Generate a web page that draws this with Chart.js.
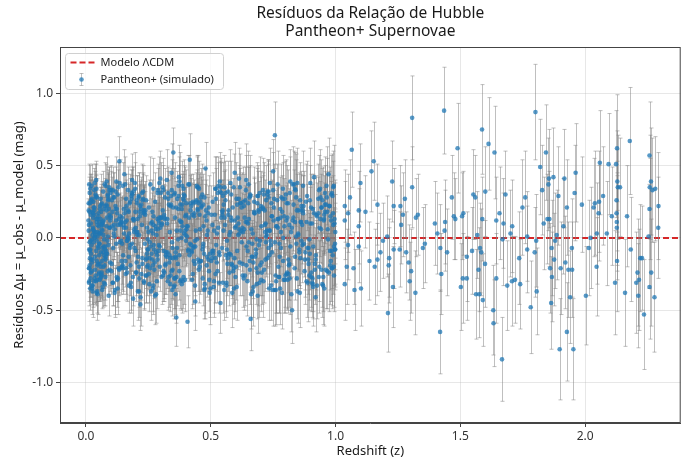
<!DOCTYPE html>
<html>
<head>
<meta charset="utf-8">
<script src="https://cdn.jsdelivr.net/npm/chart.js@4.4.1/dist/chart.umd.min.js"></script>
<style>
  body { margin: 0; background: #fff; }
  #wrap { width: 683px; height: 461px; }
</style>
</head>
<body>
<div id="wrap"><canvas id="hubbleChart" width="683" height="461"></canvas></div>
<script>
// Text
const titleLines = ['Resíduos da Relação de Hubble', 'Pantheon+ Supernovae'];
const xTitle = 'Redshift (z)';
const yTitle = 'Resíduos Δμ = μ_obs - μ_model (mag)';
const legendLabels = ['Modelo ΛCDM', 'Pantheon+ (simulado)'];

// Axis ticks
const xTicks = [0, 0.5, 1.0, 1.5, 2.0];
const yTicks = [-1.0, -0.5, 0, 0.5, 1.0];

// Band A: z < 0.1 (redshift, residual, error)
const zBandA = [
  0.010,0.012,0.011,0.015,0.013,0.017,0.014,0.019,0.016,0.021,
  0.018,0.012,0.023,0.020,0.026,0.015,0.024,0.029,0.022,0.027,
  0.031,0.025,0.034,0.019,0.028,0.036,0.032,0.013,0.038,0.030,
  0.041,0.035,0.024,0.043,0.039,0.046,0.033,0.048,0.027,0.044,
  0.051,0.037,0.049,0.054,0.042,0.016,0.057,0.045,0.052,0.060,
  0.040,0.055,0.063,0.047,0.058,0.021,0.066,0.050,0.061,0.035,
  0.069,0.053,0.064,0.072,0.056,0.030,0.075,0.059,0.067,0.044,
  0.078,0.062,0.070,0.081,0.038,0.065,0.084,0.073,0.026,0.087,
  0.068,0.076,0.090,0.048,0.079,0.093,0.071,0.082,0.057,0.096,
  0.085,0.011,0.074,0.099,0.088,0.063,0.042,0.091,0.077,0.054,
  0.094,0.018,0.083,0.097,0.066,0.033,0.089,0.080,0.046,0.100,
  0.014,0.058,0.092,0.025,0.071,0.086,0.039,0.064,0.098,0.050,
  0.028,0.075,0.017,0.095,0.061,0.043,0.083,0.022,0.069,0.056,
  0.034,0.090,0.047,0.012,0.079,0.065,0.037,0.087,0.053,0.020,
  0.073,0.029,0.060,0.094,0.041,0.016,0.082,0.067,0.032,0.049,
  0.088,0.023,0.055,0.077,0.011,0.045,0.099,0.036,0.070,0.059,
  0.015,0.084,0.040,0.062,0.027,0.093,0.052,0.019,0.076,0.031,
  0.064,0.046,0.013,0.081,0.057,0.035,0.097,0.024,0.072,0.043
];
const resBandA = [
  0.12,-0.21,0.05,0.31,-0.08,-0.35,0.18,-0.02,0.24,-0.15,
  -0.28,0.09,0.36,-0.11,0.02,-0.19,0.27,0.14,-0.05,-0.37,
  0.21,-0.01,0.33,-0.24,0.07,-0.13,0.16,-0.30,0.04,0.25,
  -0.09,0.38,-0.17,0.11,-0.26,0.01,0.19,-0.06,-0.33,0.28,
  0.08,-0.22,0.15,-0.04,0.34,-0.14,0.22,-0.29,0.03,-0.10,
  0.29,-0.18,0.06,-0.39,0.13,0.26,-0.07,0.17,-0.25,0.00,
  0.32,-0.12,0.10,-0.31,0.20,-0.03,0.37,-0.20,0.09,-0.16,
  -0.27,0.23,0.02,-0.09,0.30,-0.36,0.14,-0.01,0.18,-0.23,
  0.11,-0.32,0.27,0.04,-0.15,0.35,-0.06,0.19,-0.28,0.07,
  -0.11,0.24,-0.19,0.31,0.01,-0.24,0.13,-0.40,0.22,-0.04,
  0.16,-0.08,0.39,-0.17,0.05,-0.30,0.26,-0.13,0.09,0.33,
  -0.21,0.03,0.20,-0.35,0.12,-0.02,0.28,-0.26,0.15,-0.07,
  0.06,-0.14,0.34,-0.22,0.18,-0.38,0.08,0.25,-0.10,-0.29,
  0.21,-0.05,0.13,-0.31,0.36,-0.16,0.02,0.29,-0.24,0.10,
  -0.12,0.17,-0.27,0.07,0.40,-0.09,0.23,-0.34,0.04,-0.18,
  0.30,-0.23,0.11,-0.06,0.19,-0.37,0.14,0.01,-0.20,0.27,
  -0.03,0.22,-0.30,0.09,-0.15,0.33,-0.25,0.16,-0.08,0.05,
  0.24,-0.19,0.37,-0.11,0.03,-0.28,0.12,-0.33,0.20,-0.02
];
const errBandA = [
  0.15,0.14,0.16,0.13,0.17,0.15,0.14,0.18,0.16,0.15,
  0.13,0.17,0.15,0.16,0.14,0.19,0.15,0.13,0.16,0.18,
  0.14,0.16,0.15,0.17,0.13,0.15,0.18,0.14,0.16,0.15,
  0.17,0.13,0.16,0.15,0.19,0.14,0.16,0.17,0.15,0.13,
  0.16,0.18,0.14,0.15,0.17,0.16,0.13,0.15,0.19,0.14,
  0.15,0.16,0.17,0.14,0.15,0.18,0.16,0.13,0.15,0.17,
  0.14,0.15,0.19,0.16,0.13,0.17,0.15,0.16,0.14,0.18,
  0.16,0.14,0.15,0.17,0.16,0.13,0.18,0.15,0.14,0.16,
  0.17,0.15,0.13,0.16,0.19,0.14,0.15,0.17,0.16,0.15,
  0.14,0.18,0.16,0.15,0.13,0.17,0.15,0.14,0.19,0.16,
  0.15,0.13,0.17,0.16,0.14,0.15,0.18,0.16,0.15,0.17,
  0.16,0.15,0.14,0.18,0.16,0.13,0.15,0.17,0.14,0.16,
  0.18,0.14,0.16,0.15,0.17,0.19,0.13,0.15,0.16,0.14,
  0.15,0.17,0.13,0.16,0.15,0.14,0.18,0.16,0.17,0.15,
  0.14,0.16,0.15,0.19,0.13,0.17,0.15,0.14,0.16,0.18,
  0.17,0.15,0.16,0.14,0.18,0.15,0.13,0.16,0.15,0.17,
  0.16,0.13,0.17,0.15,0.14,0.16,0.19,0.15,0.17,0.14,
  0.15,0.17,0.14,0.16,0.15,0.18,0.16,0.13,0.15,0.16
];

// Band B: 0.1 < z < 0.5
const zBandB = [
  0.103,0.118,0.134,0.109,0.146,0.125,0.154,0.112,0.139,0.161,
  0.128,0.172,0.106,0.149,0.183,0.121,0.165,0.137,0.194,0.115,
  0.177,0.143,0.205,0.130,0.188,0.158,0.218,0.124,0.199,0.169,
  0.226,0.152,0.211,0.180,0.237,0.141,0.196,0.248,0.163,0.222,
  0.186,0.259,0.133,0.231,0.203,0.268,0.175,0.244,0.157,0.279,
  0.214,0.191,0.287,0.229,0.166,0.296,0.252,0.208,0.305,0.241,
  0.273,0.197,0.314,0.262,0.234,0.323,0.185,0.284,0.332,0.256,
  0.301,0.219,0.341,0.276,0.350,0.245,0.309,0.362,0.266,0.327,
  0.371,0.292,0.338,0.254,0.380,0.318,0.389,0.283,0.346,0.398,
  0.311,0.407,0.356,0.271,0.416,0.337,0.384,0.425,0.298,0.365,
  0.434,0.352,0.393,0.443,0.320,0.375,0.452,0.404,0.344,0.461,
  0.386,0.470,0.413,0.359,0.479,0.428,0.395,0.488,0.368,0.446,
  0.497,0.419,0.377,0.457,0.402,0.438,0.483,0.411,0.466,0.391,
  0.113,0.203,0.288,0.374,0.455,0.148,0.233,0.316,0.401,0.492,
  0.127,0.261,0.347,0.429,0.178,0.294,0.383,0.468,0.216,0.335,
  0.108,0.239,0.308,0.421,0.160,0.277,0.366,0.449,0.192,0.343,
  0.131,0.250,0.329,0.437,0.171,0.290,0.378,0.474,0.224,0.357,
  0.119,0.209,0.303,0.414,0.485,0.144,0.265,0.353,0.432,0.189,
  0.136,0.227,0.319,0.408,0.476,0.155,0.281,0.372,0.440,0.200,
  0.122,0.247,0.326,0.397,0.463,0.168,0.270,0.361,0.451,0.213,
  0.105,0.147,0.183,0.236,0.271,0.328,0.362,0.415,0.453,0.114,
  0.159,0.198,0.249,0.287,0.334,0.379,0.431,0.476,0.121,0.166,
  0.211,0.257,0.293,0.348,0.386,0.438,0.481,0.128,0.173,0.217,
  0.263,0.302,0.355,0.393,0.445,0.489,0.102,0.151,0.190,0.240,
  0.279,0.331,0.370,0.423,0.461,0.496,0.132,0.177,0.222,0.268,
  0.307,0.358,0.399,0.448,0.107,0.144,0.195,0.229,0.274,0.313,
  0.345,0.392,0.436,0.471,0.116,0.162,0.206,0.243,0.289,0.339,
  0.376,0.424,0.458,0.494,0.125,0.169,0.212,0.258,0.296,0.349,
  0.384,0.433,0.467,0.110,0.153,0.202,0.238,0.285,0.324,0.369,
  0.418,0.459,0.138,0.181,0.225,0.272,0.315,0.363,0.403,0.447,
  0.486,0.104,0.149,0.193,0.234,0.281,0.325,0.371,0.409,0.454,
  0.119,0.164,0.207,0.252,0.298,0.341,0.388,0.426,0.473,0.135,
  0.176,0.221,0.266,0.310,0.354,0.397,0.441,0.484,0.141,0.185,
  0.228,0.270,0.317,0.359,0.405,0.450,0.493,0.113,0.158,0.204,
  0.245,0.292,0.336,0.381,0.422,0.469,0.127,0.171,0.214,0.261,
  0.304,0.347,0.391,0.437,0.478,0.108,0.152,0.199,0.242,0.286,
  0.330,0.374,0.417,0.462,0.499,0.137,0.182,0.226,0.269,0.312,
  0.357,0.401,0.444,0.490,0.115,0.161,0.205,0.248,0.294,0.338,
  0.383,0.429,0.470,0.123,0.168,0.213,0.256,0.300,0.343,0.387,
  0.432,0.475,0.145,0.189,0.232,0.277,0.321,0.364,0.410,0.456
];
const resBandB = [
  -0.18,0.22,0.53,-0.07,0.14,-0.29,0.44,0.03,-0.21,0.27,
  0.09,-0.33,0.18,-0.12,0.31,-0.04,-0.24,0.15,0.06,-0.38,
  0.25,-0.16,0.02,0.35,-0.27,0.11,-0.46,0.20,-0.09,0.33,
  -0.14,0.07,0.28,-0.31,0.16,-0.02,0.38,-0.19,0.12,-0.25,
  0.30,-0.06,-0.22,0.19,0.04,-0.35,0.24,-0.11,0.37,0.08,
  -0.28,0.13,-0.15,0.32,0.01,-0.20,0.21,-0.37,0.10,0.26,
  -0.08,0.34,-0.24,0.05,0.17,-0.13,0.40,-0.30,0.23,-0.03,
  0.14,-0.41,0.29,-0.17,0.59,0.07,-0.26,-0.55,0.18,-0.10,
  0.36,-0.05,0.22,-0.32,0.11,-0.19,0.27,0.02,-0.36,0.15,
  -0.23,-0.58,0.31,0.09,0.54,-0.14,0.20,-0.29,0.41,-0.07,
  0.17,-0.34,0.03,0.26,-0.12,0.39,-0.22,0.08,0.33,-0.16,
  0.23,-0.04,0.14,-0.39,0.48,-0.25,0.29,0.05,-0.18,0.35,
  -0.11,0.19,-0.30,0.06,0.24,-0.44,0.12,-0.08,0.30,-0.27,
  0.28,-0.17,0.06,-0.23,0.16,0.36,-0.31,0.13,-0.02,0.21,
  -0.35,0.10,-0.07,0.25,-0.19,0.38,0.00,-0.28,0.15,-0.12,
  0.33,-0.26,0.19,-0.05,0.07,-0.40,0.27,-0.15,0.12,0.45,
  -0.21,0.04,0.31,-0.33,0.18,-0.09,0.23,-0.36,0.09,0.14,
  0.20,-0.13,-0.27,0.37,0.02,-0.20,0.11,0.30,-0.06,-0.42,
  -0.03,0.26,-0.18,0.08,-0.32,0.17,-0.10,0.42,0.05,-0.24,
  0.39,-0.08,0.13,-0.29,0.22,-0.01,0.34,-0.14,0.24,-0.37,
  0.08,-0.19,0.27,-0.04,0.15,-0.30,0.21,-0.12,0.34,0.01,
  -0.25,0.18,-0.08,0.31,-0.17,0.05,0.24,-0.35,0.12,-0.02,
  0.29,-0.21,0.10,-0.14,0.36,-0.06,0.19,-0.28,0.03,0.22,
  -0.11,0.14,-0.33,0.26,-0.01,0.17,-0.23,0.09,0.32,-0.15,
  0.06,-0.27,0.20,-0.09,0.28,-0.38,0.13,-0.05,0.23,-0.19,
  0.35,-0.13,0.02,0.19,-0.31,0.11,-0.07,0.27,-0.22,0.16,
  -0.03,0.30,-0.18,0.08,-0.36,0.22,0.04,-0.14,0.33,-0.26,
  0.12,-0.10,0.25,-0.29,0.17,0.00,-0.20,0.37,-0.06,0.21,
  -0.32,0.15,-0.08,0.28,0.03,-0.24,0.19,-0.12,0.40,-0.01,
  0.24,-0.16,0.09,-0.34,0.31,-0.05,0.14,-0.27,0.06,0.20,
  -0.13,0.26,-0.21,0.04,0.18,-0.39,0.10,0.29,-0.09,-0.17,
  0.32,-0.02,0.13,-0.25,0.07,0.23,-0.30,0.16,-0.11,0.38,
  -0.07,0.20,-0.15,0.33,-0.28,0.05,0.25,-0.19,0.11,-0.04,
  0.17,-0.33,0.28,-0.10,0.01,0.35,-0.23,0.09,-0.16,0.26,
  -0.20,0.12,0.04,-0.29,0.22,-0.06,0.30,-0.13,0.18,-0.37,
  0.09,-0.22,0.34,-0.02,0.15,-0.31,0.20,0.07,-0.26,0.13,
  0.27,-0.12,-0.04,0.21,-0.35,0.10,0.29,-0.18,0.03,-0.09,
  -0.28,0.16,0.36,-0.15,0.06,-0.21,0.24,-0.01,0.14,-0.32,
  0.11,-0.07,0.23,-0.27,0.19,0.02,-0.14,0.31,-0.23,0.08,
  -0.16,0.28,-0.04,0.13,-0.30,0.25,-0.10,0.05,0.37,-0.20
];
const errBandB = [
  0.17,0.16,0.17,0.18,0.15,0.19,0.17,0.16,0.18,0.17,
  0.16,0.19,0.17,0.15,0.18,0.17,0.20,0.16,0.18,0.17,
  0.19,0.16,0.18,0.17,0.20,0.16,0.18,0.19,0.17,0.16,
  0.18,0.20,0.17,0.19,0.16,0.18,0.21,0.17,0.19,0.18,
  0.17,0.19,0.18,0.16,0.20,0.18,0.17,0.21,0.19,0.18,
  0.20,0.17,0.19,0.18,0.21,0.17,0.19,0.20,0.18,0.17,
  0.19,0.18,0.20,0.17,0.19,0.22,0.18,0.19,0.17,0.20,
  0.18,0.20,0.19,0.21,0.17,0.19,0.18,0.20,0.22,0.19,
  0.20,0.18,0.21,0.19,0.17,0.20,0.19,0.22,0.18,0.20,
  0.19,0.18,0.21,0.20,0.18,0.19,0.22,0.20,0.19,0.21,
  0.20,0.22,0.19,0.21,0.18,0.20,0.23,0.19,0.21,0.20,
  0.21,0.19,0.22,0.20,0.18,0.21,0.20,0.23,0.19,0.22,
  0.20,0.22,0.19,0.21,0.23,0.20,0.18,0.22,0.21,0.19,
  0.17,0.19,0.18,0.20,0.21,0.16,0.19,0.20,0.18,0.22,
  0.18,0.17,0.20,0.19,0.21,0.18,0.20,0.19,0.22,0.18,
  0.16,0.19,0.21,0.18,0.17,0.20,0.19,0.22,0.18,0.20,
  0.17,0.20,0.18,0.21,0.19,0.17,0.21,0.20,0.19,0.22,
  0.18,0.17,0.19,0.20,0.22,0.16,0.20,0.18,0.21,0.19,
  0.16,0.18,0.21,0.19,0.20,0.17,0.19,0.22,0.18,0.20,
  0.17,0.19,0.20,0.22,0.18,0.16,0.21,0.19,0.20,0.18,
  0.17,0.18,0.16,0.19,0.17,0.20,0.18,0.17,0.19,0.16,
  0.18,0.16,0.19,0.17,0.20,0.18,0.16,0.21,0.17,0.19,
  0.16,0.19,0.18,0.20,0.17,0.19,0.21,0.16,0.18,0.17,
  0.19,0.17,0.20,0.18,0.21,0.19,0.16,0.18,0.17,0.20,
  0.18,0.21,0.17,0.19,0.20,0.22,0.17,0.18,0.19,0.18,
  0.20,0.18,0.21,0.19,0.16,0.17,0.19,0.18,0.20,0.21,
  0.19,0.20,0.22,0.21,0.17,0.18,0.16,0.19,0.18,0.20,
  0.21,0.19,0.20,0.22,0.16,0.18,0.17,0.19,0.21,0.20,
  0.20,0.22,0.19,0.17,0.18,0.16,0.20,0.19,0.21,0.18,
  0.19,0.21,0.17,0.18,0.20,0.19,0.22,0.20,0.18,0.21,
  0.22,0.16,0.18,0.17,0.19,0.20,0.18,0.21,0.19,0.20,
  0.17,0.19,0.18,0.20,0.17,0.21,0.19,0.22,0.20,0.16,
  0.18,0.20,0.19,0.17,0.21,0.18,0.20,0.22,0.17,0.19,
  0.19,0.18,0.20,0.21,0.19,0.22,0.20,0.16,0.18,0.17,
  0.20,0.19,0.18,0.21,0.22,0.20,0.17,0.19,0.18,0.20,
  0.18,0.21,0.20,0.19,0.22,0.16,0.18,0.17,0.19,0.21,
  0.19,0.20,0.22,0.21,0.20,0.17,0.18,0.20,0.19,0.18,
  0.21,0.19,0.20,0.22,0.16,0.18,0.19,0.17,0.20,0.19,
  0.20,0.22,0.21,0.17,0.19,0.18,0.20,0.21,0.19,0.22,
  0.21,0.20,0.18,0.17,0.19,0.20,0.18,0.21,0.20,0.19
];

// Band C: 0.5 < z < 1.0
const zBandC = [
  0.503,0.527,0.514,0.549,0.539,0.561,0.521,0.575,0.533,0.588,
  0.545,0.596,0.508,0.567,0.611,0.554,0.579,0.624,0.518,0.603,
  0.637,0.583,0.559,0.648,0.593,0.660,0.530,0.617,0.671,0.571,
  0.629,0.684,0.606,0.542,0.693,0.642,0.705,0.586,0.655,0.717,
  0.664,0.728,0.599,0.676,0.739,0.620,0.688,0.750,0.634,0.757,
  0.698,0.768,0.651,0.711,0.779,0.565,0.722,0.790,0.668,0.734,
  0.801,0.681,0.745,0.812,0.613,0.764,0.826,0.701,0.775,0.837,
  0.714,0.786,0.848,0.645,0.797,0.859,0.725,0.808,0.870,0.690,
  0.819,0.881,0.742,0.831,0.892,0.658,0.842,0.903,0.753,0.855,
  0.914,0.771,0.866,0.920,0.709,0.877,0.931,0.783,0.888,0.942,
  0.806,0.899,0.953,0.732,0.910,0.962,0.794,0.921,0.972,0.845,
  0.936,0.979,0.817,0.948,0.985,0.761,0.958,0.991,0.863,0.967,
  0.996,0.884,0.975,0.999,0.834,0.981,0.994,0.906,0.988,0.997,
  0.512,0.601,0.687,0.776,0.862,0.951,0.556,0.643,0.731,0.823,
  0.909,0.524,0.615,0.702,0.788,0.873,0.964,0.570,0.657,0.745,
  0.838,0.926,0.536,0.627,0.719,0.804,0.895,0.983,0.581,0.674,
  0.762,0.851,0.940,0.506,0.592,0.683,0.771,0.857,0.945,0.551,
  0.639,0.727,0.815,0.903,0.990,0.563,0.652,0.737,0.829,0.917,
  0.977,0.519,0.608,0.696,0.781,0.869,0.955,0.578,0.666,0.754,
  0.843,0.934,0.993,0.547,0.632,0.720,0.810,0.897,0.969,0.986,
  0.505,0.552,0.598,0.647,0.693,0.741,0.789,0.836,0.884,0.931,
  0.978,0.516,0.563,0.610,0.659,0.704,0.752,0.799,0.847,0.895,
  0.943,0.989,0.528,0.575,0.622,0.668,0.716,0.763,0.811,0.858,
  0.906,0.954,0.998,0.540,0.586,0.633,0.681,0.728,0.774,0.822,
  0.870,0.917,0.965,0.509,0.557,0.604,0.650,0.697,0.745,0.793,
  0.840,0.888,0.935,0.982,0.521,0.568,0.614,0.662,0.710,0.757,
  0.804,0.852,0.899,0.947,0.993,0.534,0.581,0.627,0.674,0.722,
  0.769,0.816,0.863,0.911,0.958,0.502,0.546,0.593,0.640,0.687,
  0.735,0.781,0.828,0.876,0.923,0.970,0.513,0.559,0.606,0.653,
  0.700,0.748,0.795,0.842,0.890,0.938,0.985,0.525,0.572,0.619,
  0.666,0.713,0.760,0.807,0.855,0.902,0.950,0.996,0.537,0.584,
  0.631,0.678,0.725,0.772,0.819,0.867,0.914,0.961,0.507,0.549,
  0.596,0.643,0.690,0.737,0.785,0.832,0.879,0.926,0.973,0.518,
  0.565,0.612,0.656,0.703,0.750,0.797,0.845,0.892,0.939,0.987,
  0.531,0.577,0.624,0.671,0.718,0.766,0.813,0.860,0.908,0.955,
  0.994,0.543,0.590,0.636,0.684,0.731,0.778,0.825,0.872,0.920,
  0.967,0.510,0.555,0.601,0.649,0.695,0.743,0.791,0.838,0.886,
  0.933,0.980,0.522,0.569,0.616,0.663,0.709,0.756,0.803,0.850,
  0.897,0.944,0.991,0.535,0.582,0.628,0.675,0.721,0.768,0.815,
  0.862,0.909,0.957,0.999,0.548,0.595,0.641,0.688,0.734,0.780
];
const resBandC = [
  0.16,-0.23,0.05,0.29,-0.45,-0.12,0.34,0.02,-0.31,0.21,
  -0.07,0.45,0.25,-0.18,0.10,-0.36,0.38,-0.03,-0.14,0.27,
  -0.26,0.12,0.31,-0.09,-0.21,-0.56,0.07,0.35,-0.17,0.19,
  0.04,-0.32,0.23,0.14,-0.05,0.40,-0.24,-0.38,0.28,0.09,
  -0.13,0.32,-0.27,0.17,-0.02,0.24,-0.40,0.46,0.06,0.71,
  -0.19,0.13,0.37,-0.30,0.20,-0.08,0.26,-0.16,0.03,-0.35,
  0.30,-0.11,0.15,-0.25,0.41,0.08,-0.50,0.22,-0.04,0.34,
  -0.22,0.18,-0.37,0.11,0.27,-0.14,0.05,-0.29,0.36,0.19,
  -0.06,0.25,-0.33,0.14,-0.18,0.30,0.01,-0.27,0.21,-0.10,
  0.42,-0.20,0.09,-0.41,0.33,-0.15,0.17,0.28,-0.31,0.06,
  -0.24,0.38,0.12,-0.07,-0.34,0.23,0.15,-0.12,0.44,-0.28,
  0.07,-0.19,0.31,0.26,-0.09,-0.36,0.18,0.35,-0.02,-0.23,
  0.13,-0.30,0.22,0.04,0.37,-0.16,-0.26,0.10,0.29,-0.08,
  -0.34,0.08,0.24,-0.13,0.19,-0.27,0.14,-0.06,0.32,-0.39,
  0.20,-0.17,0.03,-0.29,0.27,-0.04,0.36,0.16,-0.22,-0.10,
  0.11,-0.33,0.39,0.07,-0.15,0.24,-0.26,0.30,-0.12,0.18,
  -0.30,0.02,0.28,-0.09,0.35,-0.21,0.13,-0.38,0.21,0.05,
  0.26,-0.14,0.09,-0.24,0.17,-0.31,-0.03,0.38,0.12,-0.18,
  0.22,-0.25,0.14,0.31,-0.07,0.19,-0.35,0.04,-0.13,0.27,
  -0.04,0.33,-0.20,0.16,-0.28,0.10,0.24,-0.11,0.06,0.31,
  -0.14,0.23,0.07,-0.30,0.18,-0.05,0.34,-0.21,0.11,0.27,
  -0.09,0.16,-0.33,0.02,0.29,-0.17,0.12,-0.26,0.38,-0.01,
  0.21,-0.12,0.31,-0.24,0.05,-0.37,0.19,0.08,-0.15,0.26,
  -0.31,0.13,-0.04,0.35,-0.19,0.22,-0.08,0.30,-0.27,0.04,
  0.17,-0.22,0.28,-0.11,0.09,-0.34,0.24,-0.02,0.15,-0.29,
  0.33,-0.07,-0.20,0.12,0.27,-0.14,0.06,-0.39,0.20,-0.03,
  -0.25,0.19,0.10,-0.32,0.36,-0.10,0.14,-0.18,0.25,0.01,
  0.07,-0.28,0.22,-0.06,0.31,-0.16,0.18,-0.35,0.11,0.29,
  -0.12,0.04,0.37,-0.23,0.16,-0.01,-0.30,0.26,-0.09,0.13,
  0.20,-0.36,0.08,0.28,-0.15,0.34,-0.21,0.03,-0.11,0.24,
  -0.04,0.30,-0.26,0.14,-0.08,0.21,-0.33,0.10,0.32,-0.18,
  0.25,-0.13,0.02,-0.27,0.39,-0.05,0.17,-0.22,0.09,-0.31,
  0.12,-0.19,0.29,0.05,-0.38,0.23,-0.10,0.15,-0.24,0.34,
  -0.02,0.27,-0.16,0.08,0.33,-0.29,0.19,-0.07,0.13,-0.21,
  0.36,-0.11,0.21,-0.34,0.04,0.26,-0.19,0.11,-0.28,0.16,
  -0.06,0.31,-0.23,0.14,-0.01,0.28,-0.35,0.07,0.22,-0.15,
  0.18,-0.09,0.35,-0.20,0.10,-0.31,0.24,0.00,-0.13,0.29,
  -0.27,0.15,-0.05,0.32,-0.17,0.06,0.21,-0.36,0.12,0.03,
  0.26,-0.22,0.09,-0.12,0.30,-0.26,0.17,-0.03,0.37,-0.18,
  0.11,-0.32,0.23,-0.08,0.19,-0.14,0.33,-0.24,0.05,0.14
];
const errBandC = [
  0.20,0.22,0.19,0.23,0.21,0.20,0.22,0.24,0.21,0.20,
  0.23,0.21,0.20,0.22,0.24,0.21,0.23,0.20,0.22,0.25,
  0.21,0.23,0.22,0.20,0.24,0.22,0.19,0.23,0.25,0.21,
  0.22,0.24,0.21,0.23,0.20,0.25,0.22,0.24,0.21,0.23,
  0.25,0.22,0.24,0.21,0.23,0.20,0.26,0.22,0.24,0.23,
  0.21,0.24,0.23,0.25,0.22,0.20,0.24,0.23,0.26,0.22,
  0.24,0.22,0.25,0.23,0.21,0.26,0.23,0.24,0.22,0.25,
  0.23,0.25,0.22,0.24,0.26,0.21,0.25,0.23,0.24,0.27,
  0.22,0.26,0.24,0.23,0.25,0.27,0.22,0.24,0.26,0.23,
  0.25,0.23,0.27,0.24,0.22,0.26,0.25,0.23,0.27,0.24,
  0.26,0.24,0.23,0.25,0.27,0.22,0.26,0.24,0.25,0.28,
  0.24,0.27,0.25,0.23,0.26,0.24,0.28,0.25,0.23,0.26,
  0.27,0.25,0.24,0.26,0.23,0.28,0.25,0.27,0.24,0.26,
  0.21,0.22,0.24,0.23,0.25,0.24,0.20,0.23,0.22,0.26,
  0.24,0.20,0.23,0.22,0.25,0.23,0.27,0.21,0.24,0.22,
  0.25,0.23,0.20,0.24,0.22,0.26,0.24,0.27,0.21,0.23,
  0.22,0.24,0.26,0.19,0.23,0.25,0.22,0.24,0.27,0.21,
  0.23,0.21,0.25,0.24,0.26,0.20,0.22,0.24,0.23,0.25,
  0.27,0.20,0.22,0.25,0.23,0.24,0.26,0.21,0.23,0.24,
  0.25,0.24,0.28,0.21,0.22,0.24,0.23,0.25,0.26,0.27,
  0.21,0.23,0.22,0.24,0.21,0.25,0.23,0.22,0.26,0.24,
  0.27,0.20,0.22,0.24,0.21,0.23,0.25,0.22,0.24,0.26,
  0.23,0.27,0.21,0.23,0.22,0.24,0.21,0.25,0.23,0.26,
  0.24,0.25,0.28,0.20,0.23,0.22,0.24,0.23,0.25,0.22,
  0.26,0.24,0.27,0.22,0.20,0.23,0.25,0.22,0.24,0.23,
  0.25,0.26,0.24,0.27,0.21,0.23,0.22,0.24,0.25,0.23,
  0.24,0.26,0.25,0.23,0.28,0.21,0.23,0.22,0.24,0.26,
  0.23,0.25,0.24,0.27,0.25,0.20,0.22,0.21,0.24,0.23,
  0.25,0.24,0.26,0.23,0.27,0.25,0.22,0.21,0.23,0.24,
  0.22,0.25,0.23,0.26,0.24,0.27,0.26,0.20,0.22,0.24,
  0.23,0.22,0.26,0.24,0.25,0.23,0.27,0.28,0.21,0.22,
  0.24,0.21,0.23,0.25,0.22,0.26,0.24,0.27,0.20,0.21,
  0.22,0.24,0.21,0.23,0.25,0.24,0.26,0.23,0.27,0.22,
  0.21,0.23,0.22,0.24,0.26,0.23,0.25,0.24,0.26,0.28,
  0.20,0.22,0.24,0.21,0.23,0.25,0.24,0.26,0.23,0.27,
  0.27,0.21,0.23,0.22,0.24,0.23,0.25,0.26,0.24,0.25,
  0.26,0.20,0.22,0.23,0.21,0.24,0.22,0.25,0.23,0.24,
  0.25,0.27,0.22,0.21,0.23,0.24,0.22,0.25,0.24,0.26,
  0.24,0.26,0.28,0.21,0.23,0.22,0.25,0.24,0.23,0.25,
  0.26,0.24,0.27,0.28,0.21,0.22,0.24,0.23,0.25,0.22
];

// Band D: z > 1.0 (sparse, read point by point)
const zBandD = [
  1.037,1.037,1.045,1.037,1.050,1.050,1.058,1.065,1.072,1.076,
  1.093,1.093,1.093,1.100,1.102,1.120,1.136,1.144,1.153,1.157,
  1.168,1.168,1.180,1.190,1.207,1.213,1.215,1.210,1.227,1.233,
  1.233,1.230,1.257,1.260,1.263,1.270,1.278,1.283,1.293,1.303,
  1.297,1.307,1.307,1.320,1.322,1.330,1.350,1.358,1.398,1.408,
  1.420,1.424,1.419,1.435,1.437,1.439,1.447,1.466,1.474,1.480,
  1.489,1.507,1.512,1.526,1.502,1.510,1.526,1.547,1.552,1.560,
  1.568,1.563,1.576,1.573,1.579,1.584,1.587,1.588,1.590,1.599,
  1.600,1.613,1.632,1.633,1.637,1.644,1.644,1.657,1.667,1.673,
  1.681,1.669,1.688,1.701,1.708,1.707,1.719,1.736,1.740,1.749,
  1.760,1.768,1.768,1.782,1.801,1.798,1.804,1.806,1.820,1.828,
  1.834,1.843,1.849,1.853,1.855,1.857,1.860,1.864,1.866,1.867,
  1.873,1.876,1.880,1.886,1.893,1.898,1.902,1.913,1.917,1.921,
  1.927,1.927,1.933,1.940,1.947,1.948,1.953,1.958,1.962,1.987,
  2.003,2.015,2.022,2.034,2.039,2.046,2.047,2.054,2.056,2.059,
  2.072,2.087,2.094,2.107,2.120,2.124,2.126,2.126,2.127,2.128,
  2.129,2.127,2.128,2.131,2.140,2.160,2.168,2.179,2.183,2.205,
  2.210,2.213,2.216,2.221,2.228,2.236,2.254,2.258,2.258,2.259,
  2.264,2.270,2.265,2.258,2.278,2.281,2.294,2.293
];
const resBandD = [
  0.22,0.12,-0.20,-0.32,0.17,-0.05,0.28,0.61,-0.21,-0.36,
  0.19,0.08,-0.06,0.38,-0.35,0.18,-0.16,0.46,0.53,-0.20,
  0.23,-0.15,-0.10,-0.02,0.01,-0.19,-0.14,-0.52,0.39,0.22,
  -0.08,-0.34,-0.08,0.22,0.09,0.16,0.27,-0.10,-0.17,-0.23,
  -0.30,0.83,0.35,-0.38,0.14,0.16,-0.07,-0.04,0.10,0.03,
  -0.07,-0.25,-0.65,0.88,0.05,0.11,-0.10,0.28,0.15,0.13,
  0.62,0.15,0.17,-0.13,-0.34,-0.28,-0.28,-0.09,0.30,0.28,
  0.02,-0.39,-0.39,-0.22,-0.07,-0.10,0.75,0.13,-0.43,-0.18,
  0.32,0.65,-0.50,-0.59,0.59,0.12,-0.28,0.17,-0.84,0.10,
  0.30,-0.01,-0.33,0.03,0.08,-0.30,-0.29,-0.14,-0.32,0.21,
  0.28,0.01,-0.08,-0.48,0.87,-0.10,-0.02,-0.37,0.49,0.33,
  0.10,0.59,0.13,0.37,0.41,0.13,-0.21,-0.45,-0.07,-0.27,
  0.42,-0.15,-0.02,0.02,0.29,-0.77,-0.21,0.08,0.41,-0.17,
  0.21,-0.65,-0.22,-0.41,-0.07,-0.22,-0.77,0.31,0.45,0.23,
  -0.40,-0.07,0.00,0.21,0.24,-0.20,0.03,0.17,0.25,0.52,
  0.29,0.03,0.51,0.15,-0.31,0.51,0.26,0.17,0.11,0.62,
  0.39,0.07,-0.16,0.35,0.35,-0.38,0.15,0.67,-0.08,-0.31,
  -0.24,-0.40,-0.29,-0.14,-0.14,-0.53,0.01,0.57,0.20,0.35,
  0.39,0.33,-0.24,-0.34,-0.41,0.34,0.22,0.07
];
const errBandD = [
  0.25,0.27,0.26,0.25,0.27,0.24,0.26,0.26,0.25,0.28,
  0.27,0.26,0.25,0.27,0.26,0.25,0.27,0.28,0.27,0.26,
  0.28,0.25,0.27,0.26,0.28,0.26,0.27,0.27,0.28,0.26,
  0.27,0.28,0.26,0.28,0.27,0.29,0.27,0.28,0.26,0.29,
  0.27,0.29,0.28,0.29,0.27,0.28,0.28,0.27,0.29,0.28,
  0.30,0.28,0.29,0.30,0.28,0.29,0.30,0.29,0.30,0.28,
  0.31,0.30,0.29,0.31,0.30,0.31,0.29,0.30,0.31,0.29,
  0.30,0.31,0.30,0.29,0.31,0.30,0.31,0.29,0.32,0.30,
  0.31,0.32,0.31,0.30,0.32,0.30,0.31,0.32,0.29,0.31,
  0.30,0.32,0.31,0.30,0.32,0.31,0.30,0.32,0.31,0.33,
  0.32,0.31,0.30,0.32,0.33,0.31,0.32,0.30,0.33,0.31,
  0.32,0.33,0.31,0.32,0.34,0.33,0.31,0.32,0.33,0.31,
  0.34,0.32,0.33,0.31,0.34,0.35,0.32,0.33,0.34,0.32,
  0.33,0.34,0.33,0.32,0.34,0.33,0.35,0.33,0.34,0.33,
  0.34,0.33,0.35,0.34,0.36,0.34,0.35,0.33,0.35,0.36,
  0.34,0.36,0.35,0.34,0.36,0.37,0.35,0.36,0.34,0.37,
  0.35,0.36,0.35,0.36,0.34,0.37,0.35,0.37,0.36,0.35,
  0.37,0.36,0.35,0.37,0.36,0.38,0.36,0.37,0.35,0.36,
  0.37,0.36,0.37,0.36,0.38,0.36,0.37,0.35
];

// Build point list from the bands
function bandPoints(zs, rs, es) {
  const n = Math.min(zs.length, rs.length, es.length);
  const out = [];
  for (let i = 0; i < n; i++) out.push({ x: zs[i], y: rs[i], err: es[i] });
  return out;
}
const points = [
  ...bandPoints(zBandA, resBandA, errBandA),
  ...bandPoints(zBandB, resBandB, errBandB),
  ...bandPoints(zBandC, resBandC, errBandC),
  ...bandPoints(zBandD, resBandD, errBandD)
];

const FONT = "'Noto Sans', 'DejaVu Sans', sans-serif";
const pointColor = 'rgba(31, 119, 180, 0.75)';
const barColor = 'rgba(128, 128, 128, 0.5)';
const modelColor = '#d62728';

// Zero line (model) + error bars under the markers
const errorBarPlugin = {
  id: 'errorBars',
  beforeDatasetsDraw(chart) {
    const { ctx, chartArea, scales: { x, y } } = chart;
    ctx.save();
    ctx.beginPath();
    ctx.rect(chartArea.left, chartArea.top, chartArea.width, chartArea.height);
    ctx.clip();

    // ΛCDM model: residual = 0
    const y0 = y.getPixelForValue(0);
    ctx.strokeStyle = modelColor;
    ctx.lineWidth = 2;
    ctx.setLineDash([6, 3]);
    ctx.beginPath();
    ctx.moveTo(chartArea.left, y0);
    ctx.lineTo(chartArea.right, y0);
    ctx.stroke();
    ctx.setLineDash([]);

    ctx.strokeStyle = barColor;
    ctx.lineWidth = 1;
    ctx.beginPath();
    chart.data.datasets[0].data.forEach(p => {
      const px = Math.round(x.getPixelForValue(p.x)) + 0.5;
      const top = y.getPixelForValue(p.y + p.err);
      const bot = y.getPixelForValue(p.y - p.err);
      ctx.moveTo(px, top);
      ctx.lineTo(px, bot);
      ctx.moveTo(px - 2, top);
      ctx.lineTo(px + 2, top);
      ctx.moveTo(px - 2, bot);
      ctx.lineTo(px + 2, bot);
    });
    ctx.stroke();
    ctx.restore();
  }
};

// Frame + legend on top
const framePlugin = {
  id: 'frameLegend',
  afterDraw(chart) {
    const { ctx, chartArea } = chart;
    ctx.save();
    ctx.strokeStyle = '#444';
    ctx.lineWidth = 1;
    ctx.strokeRect(chartArea.left + 0.5, chartArea.top + 0.5, chartArea.width - 1, chartArea.height - 1);

    // legend box
    const lx = chartArea.left + 5.5, ly = chartArea.top + 6.5, lw = 158, lh = 36;
    ctx.beginPath();
    ctx.roundRect(lx, ly, lw, lh, 3);
    ctx.fillStyle = 'rgba(255,255,255,0.8)';
    ctx.fill();
    ctx.strokeStyle = '#d0d0d0';
    ctx.stroke();

    const row1 = ly + 9, row2 = ly + 26;
    ctx.strokeStyle = modelColor;
    ctx.lineWidth = 2;
    ctx.setLineDash([6, 3]);
    ctx.beginPath();
    ctx.moveTo(lx + 5, row1);
    ctx.lineTo(lx + 32, row1);
    ctx.stroke();
    ctx.setLineDash([]);

    const gx = lx + 16;
    ctx.strokeStyle = barColor;
    ctx.lineWidth = 1;
    ctx.beginPath();
    ctx.moveTo(gx, row2 - 6); ctx.lineTo(gx, row2 + 6);
    ctx.moveTo(gx - 2, row2 - 6); ctx.lineTo(gx + 2, row2 - 6);
    ctx.moveTo(gx - 2, row2 + 6); ctx.lineTo(gx + 2, row2 + 6);
    ctx.stroke();
    ctx.fillStyle = pointColor;
    ctx.beginPath();
    ctx.arc(gx, row2, 2.3, 0, Math.PI * 2);
    ctx.fill();

    ctx.fillStyle = '#222';
    ctx.font = '11px ' + FONT;
    ctx.textBaseline = 'middle';
    ctx.fillText(legendLabels[0], lx + 35, row1);
    ctx.fillText(legendLabels[1], lx + 35, row2);
    ctx.restore();
  }
};

new Chart(document.getElementById('hubbleChart'), {
  type: 'scatter',
  data: {
    datasets: [{
      label: legendLabels[1],
      data: points,
      backgroundColor: pointColor,
      borderWidth: 0,
      pointRadius: 2.3,
      pointHoverRadius: 2.3
    }]
  },
  options: {
    responsive: false,
    animation: false,
    devicePixelRatio: 1,
    layout: { padding: { right: 1 } },
    plugins: {
      legend: { display: false },
      tooltip: { enabled: false },
      title: {
        display: true,
        fullSize: false,
        text: titleLines,
        color: '#1a1a1a',
        font: { family: FONT, size: 15.5, weight: 'normal', lineHeight: 1.2 },
        padding: { top: 4, bottom: 5.8 }
      }
    },
    scales: {
      x: {
        type: 'linear',
        min: -0.104,
        max: 2.383,
        afterBuildTicks: s => { s.ticks = xTicks.map(v => ({ value: v })); },
        afterFit: s => { s.height = 38; },
        ticks: {
          callback: v => v.toFixed(1),
          color: '#333',
          font: { family: FONT, size: 12 },
          padding: 2,
          maxRotation: 0
        },
        grid: { color: 'rgba(176,176,176,0.3)', tickColor: '#444', tickLength: 4 },
        border: { color: '#444' },
        title: {
          display: true,
          text: xTitle,
          color: '#1a1a1a',
          font: { family: FONT, size: 13 },
          padding: { top: 0, bottom: 1.5 }
        }
      },
      y: {
        type: 'linear',
        min: -1.28,
        max: 1.32,
        afterBuildTicks: s => { s.ticks = yTicks.map(v => ({ value: v })); },
        afterFit: s => { s.width = 60; },
        ticks: {
          callback: v => v.toFixed(1),
          color: '#333',
          font: { family: FONT, size: 12 },
          padding: 3
        },
        grid: { color: 'rgba(176,176,176,0.3)', tickColor: '#444', tickLength: 4 },
        border: { color: '#444' },
        title: {
          display: true,
          text: yTitle,
          color: '#1a1a1a',
          font: { family: FONT, size: 13 },
          padding: { top: 11, bottom: 0 }
        }
      }
    }
  },
  plugins: [errorBarPlugin, framePlugin]
});
</script>
</body>
</html>
